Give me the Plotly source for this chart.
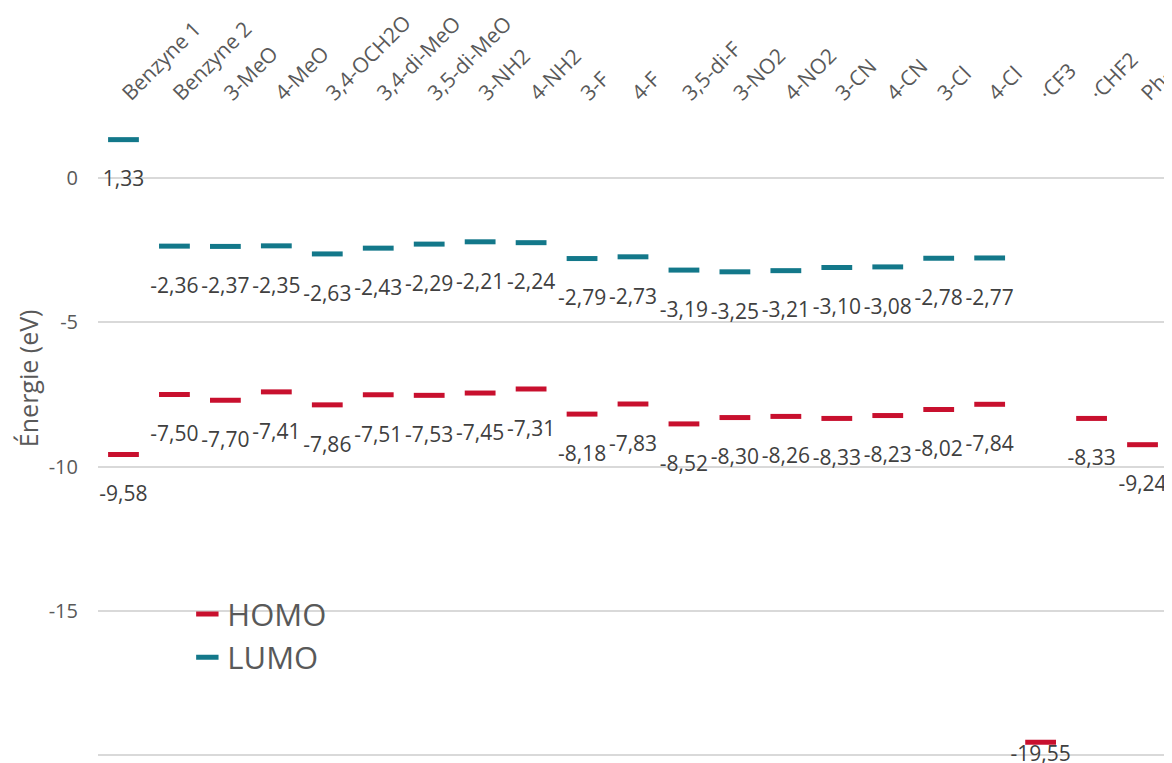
import plotly.graph_objects as go

# ---------- data ----------
categories = ["Benzyne 1", "Benzyne 2", "3-MeO", "4-MeO", "3,4-OCH2O", "3,4-di-MeO",
              "3,5-di-MeO", "3-NH2", "4-NH2", "3-F", "4-F", "3,5-di-F", "3-NO2",
              "4-NO2", "3-CN", "4-CN", "3-Cl", "4-Cl", "·CF3", "·CHF2", "Ph·"]

homo = [-9.58, -7.50, -7.70, -7.41, -7.86, -7.51, -7.53, -7.45, -7.31, -8.18, -7.83,
        -8.52, -8.30, -8.26, -8.33, -8.23, -8.02, -7.84, -19.55, -8.33, -9.24]

lumo = [1.33, -2.36, -2.37, -2.35, -2.63, -2.43, -2.29, -2.21, -2.24, -2.79, -2.73,
        -3.19, -3.25, -3.21, -3.10, -3.08, -2.78, -2.77, None, None, None]

y_ticks = [0, -5, -10, -15, -20]

HOMO_COLOR = "#C8102E"
LUMO_COLOR = "#13788A"
FONT = "Open Sans"

# label gap below each dash (invisible marker size); the ·CF3 label is squeezed
# up against its dash because it sits on the bottom edge of the chart
homo_label_gap = [48] * len(categories)
homo_label_gap[categories.index("·CF3")] = 4
lumo_label_gap = [48] * len(categories)

fig = go.Figure()


def add_series(name, values, color, gap):
    # the short horizontal dashes
    fig.add_trace(go.Scatter(
        x=categories, y=values, mode="markers", name=name,
        marker=dict(symbol="line-ew", size=22, color=color,
                    line=dict(color=color, width=5)),
        hoverinfo="skip",
    ))
    # data labels, pushed below the dash via a larger invisible marker
    fig.add_trace(go.Scatter(
        x=categories, y=values, mode="markers+text", showlegend=False,
        marker=dict(size=gap, color="rgba(0,0,0,0)", opacity=0,
                    line=dict(width=0)),
        texttemplate="%{y:.2f}", textposition="bottom center",
        textfont=dict(family=FONT, size=21, color="#404040"),
        cliponaxis=False,
        hovertemplate=name + " %{x}: %{y:.2f}<extra></extra>",
    ))


add_series("HOMO", homo, HOMO_COLOR, homo_label_gap)
add_series("LUMO", lumo, LUMO_COLOR, lumo_label_gap)

# page body has an 8px margin, so the figure is 8px smaller than the window
fig.update_layout(
    width=1164, height=755,
    margin=dict(l=89.5, r=3.5, t=102, b=2),
    paper_bgcolor="white", plot_bgcolor="white",
    separators=", ",
    font=dict(family=FONT, color="#595959"),
    showlegend=True,
    legend=dict(x=0.0835, y=0.2668, xanchor="left", yanchor="top",
                font=dict(size=31, color="#595959"), bgcolor="rgba(0,0,0,0)",
                itemsizing="trace", tracegroupgap=0),
    xaxis=dict(
        type="category", side="top", tickangle=-45, automargin=False,
        showgrid=False, showline=False, zeroline=False, ticks="",
        tickfont=dict(size=21, color="#595959"),
        range=[-0.5, len(categories) - 0.5],
    ),
    yaxis=dict(
        range=[-20.2, 2.357], automargin=False,
        tickvals=y_ticks, ticktext=[str(v) for v in y_ticks],
        showgrid=True, gridcolor="#D9D9D9", gridwidth=1.5,
        zeroline=False, showline=False,
        ticks="outside", ticklen=15, tickcolor="rgba(0,0,0,0)",
        tickfont=dict(size=20, color="#595959"),
    ),
    annotations=[dict(
        text="Énergie (eV)", textangle=-90, showarrow=False,
        xref="paper", yref="paper", x=-0.0655, y=0.588,
        xanchor="center", yanchor="middle",
        font=dict(family=FONT, size=25, color="#595959"),
    )],
)

fig.write_html("out.html")
